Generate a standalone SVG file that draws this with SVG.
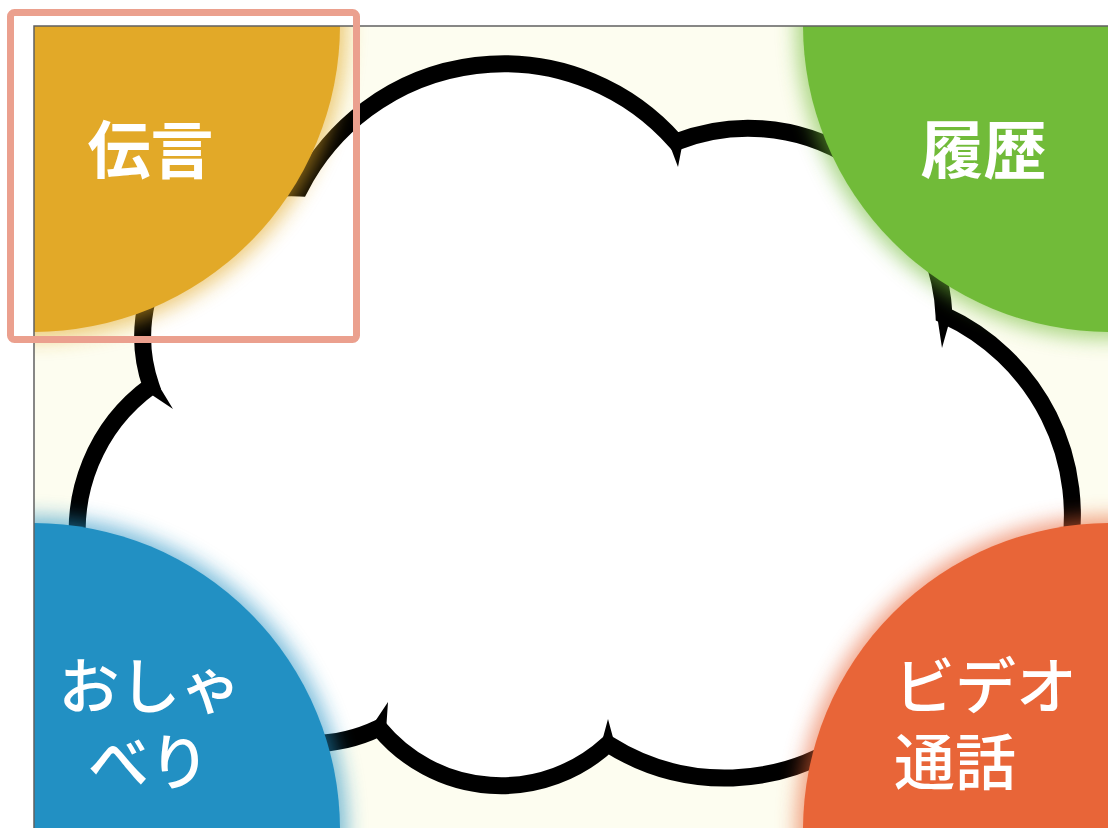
<svg xmlns="http://www.w3.org/2000/svg" width="1108" height="828" viewBox="0 0 1108 828">
<style>
 .lbl{font-family:"Noto Sans CJK JP","Noto Sans CJK SC",sans-serif;font-size:63px;fill:#fff;dominant-baseline:central}
 .b{font-weight:700}
 .m{font-weight:500;font-size:61px}
 .cloud{fill:#fff;stroke:#000;stroke-width:17;stroke-linejoin:miter;stroke-miterlimit:10}
 .halo{opacity:0.6;filter:url(#glow)}
</style>
<defs>
 <clipPath id="frameClip"><rect x="34" y="26" width="1100" height="820"/></clipPath>
 <filter id="glow" x="-30%" y="-30%" width="160%" height="160%"><feGaussianBlur stdDeviation="10"/></filter>
</defs>
<rect width="1108" height="828" fill="#fff"/>
<rect x="34" y="26" width="1100" height="820" fill="#FDFDF0"/>
<g id="cloud">
 <path class="cloud" d="M300 188 A229 229 0 0 1 676 142 A196 196 0 0 1 944 315 A220 220 0 0 1 855 735 A218 218 0 0 1 608 744 A158 158 0 0 1 379 728 A158 158 0 0 1 204 702 A179 179 0 0 1 151 386 A149 149 0 0 1 300 188 Z"/>
 <path fill="#000" d="M669 143 L678 167 L683 141 Z M937 315 L942 348 L951 316 Z M601 745 L608 719 L615 745 Z M372 726 L388 702 L386 731 Z M146 391 L173 409 L156 381 Z"/>
</g>
<g id="connectors"/>
<g id="node-dengon" clip-path="url(#frameClip)">
 <circle class="halo" cx="33" cy="25" r="314" fill="#E2A928"/>
 <circle cx="33" cy="25" r="307" fill="#E2A928"/>
 <text class="lbl b" x="150.5" y="145" text-anchor="middle">伝言</text>
</g>
<g id="node-rireki" clip-path="url(#frameClip)">
 <circle class="halo" cx="1110" cy="25" r="314" fill="#71BB39"/>
 <circle cx="1110" cy="25" r="307" fill="#71BB39"/>
 <text class="lbl b" x="983.5" y="145" text-anchor="middle">履歴</text>
</g>
<g id="node-oshaberi" clip-path="url(#frameClip)">
 <circle class="halo" cx="33" cy="830" r="314" fill="#2290C3"/>
 <circle cx="33" cy="830" r="307" fill="#2290C3"/>
 <text class="lbl m" x="150" y="682" text-anchor="middle">おしゃ</text>
 <text class="lbl m" x="149" y="758" text-anchor="middle">べり</text>
</g>
<g id="node-video" clip-path="url(#frameClip)">
 <circle class="halo" cx="1110" cy="830" r="314" fill="#E86538"/>
 <circle cx="1110" cy="830" r="307" fill="#E86538"/>
 <text class="lbl m" x="894" y="682">ビデオ</text>
 <text class="lbl m" x="894" y="758">通話</text>
</g>
<path d="M34 828 V26 H1108" fill="none" stroke="#606060" stroke-width="1.5"/>
<rect id="highlight" x="10.5" y="12.5" width="346" height="327" rx="4" fill="none" stroke="#EBA08E" stroke-width="7"/>
</svg>
